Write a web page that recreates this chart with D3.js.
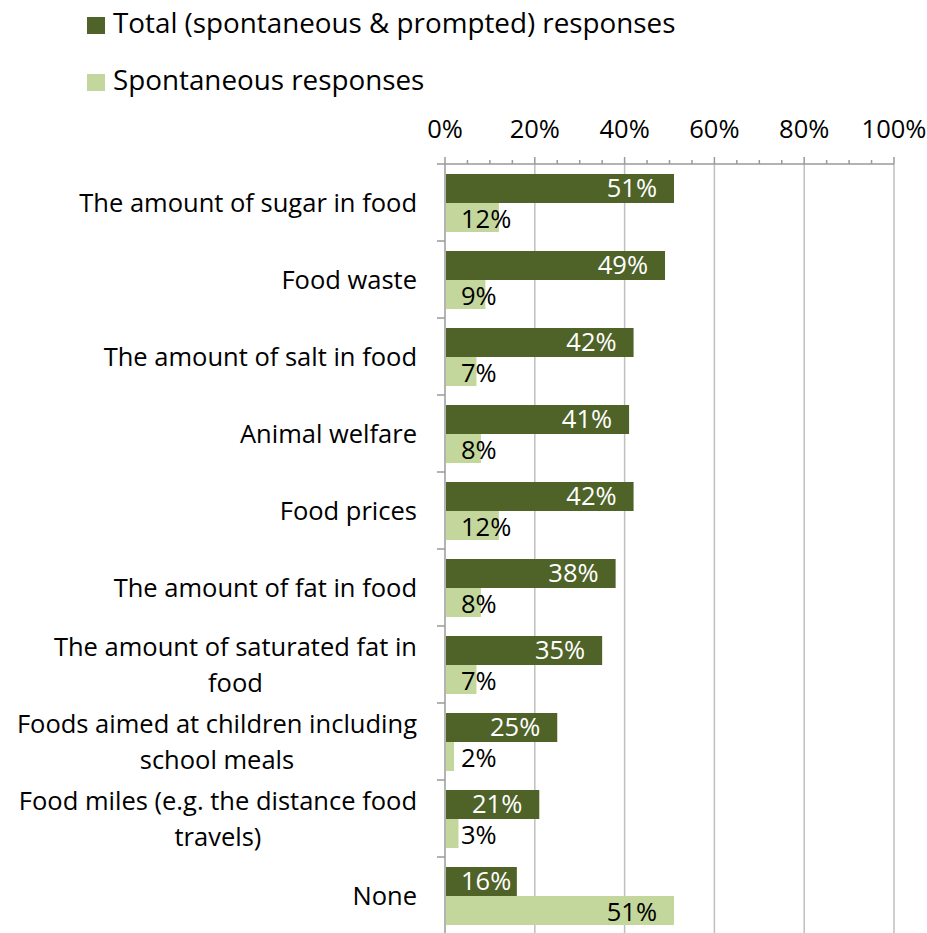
<!DOCTYPE html>
<html><head><meta charset="utf-8">
<script src="https://cdn.jsdelivr.net/npm/d3@7"></script>
<style>
body{margin:0;background:#fff;}
text{font-family:"Open Sans",Lato,sans-serif;}
</style></head>
<body><svg id="c" width="927" height="933"></svg>
<script>
const categories = [
  ["The amount of sugar in food"],
  ["Food waste"],
  ["The amount of salt in food"],
  ["Animal welfare"],
  ["Food prices"],
  ["The amount of fat in food"],
  ["The amount of saturated fat in", "food"],
  ["Foods aimed at children including", "school meals"],
  ["Food miles (e.g. the distance food", "travels)"],
  ["None"]
];
const totalValues = [51, 49, 42, 41, 42, 38, 35, 25, 21, 16];
const spontValues = [12, 9, 7, 8, 12, 8, 7, 2, 3, 51];
const seriesNames = ["Total (spontaneous & prompted) responses", "Spontaneous responses"];
const tickValues = [0, 20, 40, 60, 80, 100];

const colors = ["#4F6228", "#C3D69B"];
const FS = 25.5;
const LFS = 27.8;
const svg = d3.select("#c");
const x = d3.scaleLinear().domain([0, 100]).range([445, 894]);
const y = d3.scaleBand().domain(d3.range(categories.length)).range([164, 934]);
const gridC = "#BFBFBF";

// gridlines
svg.append("g").selectAll("line").data(tickValues.filter(d => d > 0)).join("line")
  .attr("x1", d => x(d)).attr("x2", d => x(d)).attr("y1", 164).attr("y2", 934)
  .attr("stroke", gridC).attr("stroke-width", 1.5);

// top axis
const minor = d3.range(0, 101, 5);
svg.append("line").attr("x1", 437).attr("x2", x(100)).attr("y1", 164).attr("y2", 164)
  .attr("stroke", "#9a9a9a").attr("stroke-width", 1.5);
svg.append("g").selectAll("line").data(minor).join("line")
  .attr("x1", d => x(d)).attr("x2", d => x(d))
  .attr("y1", d => d % 20 === 0 ? 157 : 160).attr("y2", 164)
  .attr("stroke", "#9a9a9a").attr("stroke-width", 1.5);
svg.append("g").selectAll("text").data(tickValues).join("text")
  .attr("x", d => x(d)).attr("y", 138).attr("text-anchor", "middle")
  .attr("font-size", FS).attr("fill", "#000").text(d => d + "%");

// left axis
svg.append("line").attr("x1", 445).attr("x2", 445).attr("y1", 164).attr("y2", 934)
  .attr("stroke", "#9a9a9a").attr("stroke-width", 1.5);
svg.append("g").selectAll("line").data(d3.range(1, categories.length + 1)).join("line")
  .attr("x1", 437).attr("x2", 445).attr("y1", d => 164 + d * y.step()).attr("y2", d => 164 + d * y.step())
  .attr("stroke", "#9a9a9a").attr("stroke-width", 1.5);

// category labels (multi-line: centred block, right-aligned)
const lineH = 36;
categories.forEach((lines, i) => {
  const cy = y(i) + y.bandwidth() / 2;
  const n = lines.length;
  const g = svg.append("g");
  const ts = lines.map((ln, j) => g.append("text").attr("font-size", FS).attr("fill", "#000")
      .attr("text-anchor", "middle")
      .attr("y", cy + 9 + (j - (n - 1) / 2) * lineH).text(ln));
  const maxW = d3.max(ts, t => t.node().getComputedTextLength());
  ts.forEach(t => t.attr("x", 417 - maxW / 2));
});

// bars
const barH = 29;
const series = [totalValues, spontValues];
series.forEach((vals, s) => {
  const g = svg.append("g");
  g.selectAll("rect").data(vals).join("rect")
    .attr("x", x(0) + 1).attr("y", (d, i) => y(i) + 10 + s * barH)
    .attr("width", d => x(d) - x(0) - 1).attr("height", barH)
    .attr("fill", colors[s]);
  const labels = g.selectAll("text").data(vals).join("text")
    .attr("text-anchor", "end").attr("font-size", FS)
    .attr("fill", s === 0 ? "#fff" : "#000")
    .attr("y", (d, i) => y(i) + 10 + s * barH + barH / 2 + (s === 0 ? 8 : 10))
    .text(d => d + "%");
  labels.each(function(d) {
    const w = this.getComputedTextLength();
    const xe = Math.max(x(d) - 17, x(0) + 16 + w);
    d3.select(this).attr("x", xe);
  });
});

// legend
const leg = svg.append("g");
seriesNames.forEach((name, i) => {
  const ly = [33, 90][i];
  leg.append("rect").attr("x", 87).attr("y", ly - 16).attr("width", 18).attr("height", 17).attr("fill", colors[i]);
  leg.append("text").attr("x", 113).attr("y", ly).attr("font-size", LFS).attr("fill", "#000").text(name);
});
</script></body></html>
